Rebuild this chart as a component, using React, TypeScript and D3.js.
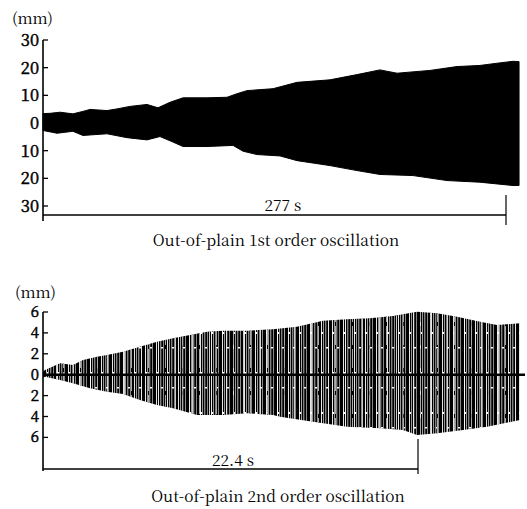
import React from 'react'
import * as d3 from 'd3'

// out-of-plane 1st order oscillation: envelope (mm)
const topUpperSec = [0, 4.2, 10.2, 17.9, 23.9, 28.1, 38.3, 44.3, 52, 62.2, 68.8, 76, 83.8, 98.1, 110.1, 116.1, 122, 137.6, 152, 171.7, 187.9, 201.6, 211.8, 231.5, 247.7, 261.4, 271.6, 281.2, 284.8]
const topUpperMm = [3.4, 3.5, 3.9, 3.3, 4.2, 4.9, 4.5, 5.1, 6.0, 6.7, 5.5, 7.5, 9.1, 9.1, 9.3, 10.6, 11.7, 12.4, 14.7, 15.6, 17.5, 19.2, 18.0, 19.0, 20.4, 20.8, 21.6, 22.3, 22.2]
const topLowerSec = [0, 8.4, 17.9, 23.9, 38.3, 50.3, 62.2, 70, 77.8, 83.8, 98.1, 113.7, 119.7, 128, 141.8, 152, 171.7, 187.9, 201.6, 221.4, 241.7, 261.4, 281.2, 284.8]
const topLowerMm = [2.7, 3.7, 3.0, 4.5, 3.9, 5.3, 6.1, 4.9, 6.9, 8.5, 8.5, 8.1, 10.2, 11.4, 11.9, 13.6, 15.4, 17.2, 18.6, 19.0, 20.8, 21.4, 22.6, 22.6]
const topTicks = [30, 20, 10, 0, -10, -20, -30]
const topSpanSec = 277

// out-of-plane 2nd order oscillation
const botUpperSec = [0, 0.12, 1.02, 1.79, 2.39, 3.23, 3.82, 4.78, 5.79, 6.81, 7.77, 8.78, 9.8, 10.75, 12.19, 13.74, 15.17, 16.73, 18.16, 19.53, 20.91, 22.34, 23.54, 24.73, 26.11, 27.12, 28.49]
const botUpperMm = [0.3, 0.45, 1.09, 0.93, 1.41, 1.72, 1.89, 2.2, 2.68, 3.16, 3.48, 3.8, 4.11, 4.21, 4.21, 4.34, 4.59, 5.17, 5.3, 5.4, 5.62, 6.03, 5.88, 5.55, 5.07, 4.75, 4.92]
const botLowerSec = [0, 0.12, 1.02, 1.79, 2.81, 3.82, 4.78, 5.79, 6.81, 7.77, 9.2, 10.75, 12.19, 13.74, 14.16, 16.13, 18.16, 20.13, 21.51, 22.34, 23.54, 25.09, 26.52, 28.49]
const botLowerMm = [0.3, 0.19, 0.51, 0.82, 1.3, 1.63, 1.85, 2.42, 2.9, 3.22, 3.86, 3.86, 3.69, 3.86, 4.02, 4.5, 4.98, 5.13, 5.29, 5.77, 5.61, 5.29, 4.98, 4.33]
const botTicks = [6, 4, 2, 0, -2, -4, -6]
const botSpanSec = 22.4

const serif = "'Noto Serif CJK JP', 'Liberation Serif', serif"

function envelopePath(upS: number[], upV: number[], loS: number[], loV: number[], x: any, y: any) {
  const pts: [number, number][] = []
  upS.forEach((s, i) => pts.push([x(s), y(upV[i])]))
  for (let i = loS.length - 1; i >= 0; i--) pts.push([x(loS[i]), y(-loV[i])])
  return d3.line().curve(d3.curveLinearClosed)(pts) || ''
}

const T = (props: any) => <text {...props} style={{ fontFamily: serif }} />

export default function App() {
  // top chart scales
  const xTop = d3.scaleLinear().domain([0, topSpanSec]).range([43, 506])
  const yTop = d3.scaleLinear().domain([-30, 30]).range([206, 40])
  // bottom chart scales
  const xBot = d3.scaleLinear().domain([0, botSpanSec]).range([43, 418])
  const yBot = d3.scaleLinear().domain([-6, 6]).range([437.4, 312])

  const topPath = envelopePath(topUpperSec, topUpperMm, topLowerSec, topLowerMm, xTop, yTop)
  const botPath = envelopePath(botUpperSec, botUpperMm, botLowerSec, botLowerMm, xBot, yBot)

  return (
    <svg width={527} height={509} style={{ position: 'absolute', left: 0, top: 0, background: '#fff' }}>
      <defs>
        <pattern id="strokes" width={11} height={40} patternUnits="userSpaceOnUse">
          <rect x={0} y={0} width={11} height={40} fill="#000" />
          <rect x={2} y={0} width={0.9} height={40} fill="#fff" />
          <rect x={4} y={0} width={1} height={40} fill="#999" />
          <rect x={6.5} y={0} width={0.7} height={40} fill="#fff" />
          <rect x={9} y={0} width={1} height={40} fill="#888" />
          <rect x={2} y={12} width={2} height={2} fill="#fff" />
          <rect x={7} y={27} width={2} height={1.5} fill="#fff" />
        </pattern>
        <pattern id="gaps" width={17} height={23} patternUnits="userSpaceOnUse">
          <rect x={5} y={0} width={0.8} height={23} fill="#fff" />
          <rect x={12} y={4} width={1} height={19} fill="#aaa" />
        </pattern>
      </defs>

      {/* ---------- top chart ---------- */}
      <T x={12} y={24} fontSize={15.5}>(mm)</T>
      <line x1={43} x2={43} y1={yTop(30)} y2={221} stroke="#000" strokeWidth={1.6} />
      {topTicks.map(t => (
        <g key={'tt' + t}>
          <line x1={43} x2={48} y1={yTop(t)} y2={yTop(t)} stroke="#000" strokeWidth={1.3} />
          <T x={39} y={yTop(t) + 6} fontSize={16.5} textAnchor="end" stroke="#000" strokeWidth={0.5}>{Math.abs(t)}</T>
        </g>
      ))}
      <path d={topPath} fill="#000" stroke="#000" strokeWidth={1} strokeLinejoin="round" />
      <line x1={43} x2={xTop(topSpanSec)} y1={215} y2={215} stroke="#000" strokeWidth={1.3} />
      <line x1={xTop(topSpanSec)} x2={xTop(topSpanSec)} y1={195} y2={225} stroke="#000" strokeWidth={1.2} />
      <T x={283} y={211} fontSize={15.5} textAnchor="middle">277 s</T>
      <T x={276} y={246} fontSize={15.5} textAnchor="middle">Out-of-plain 1st order oscillation</T>

      {/* ---------- bottom chart ---------- */}
      <T x={15} y={298} fontSize={15.5}>(mm)</T>
      <line x1={43} x2={43} y1={yBot(6)} y2={471} stroke="#000" strokeWidth={1.6} />
      {botTicks.map(t => (
        <g key={'bt' + t}>
          <line x1={43} x2={48} y1={yBot(t)} y2={yBot(t)} stroke="#000" strokeWidth={1.3} />
          <T x={39} y={yBot(t) + 5} fontSize={15} textAnchor="end" stroke="#000" strokeWidth={0.5}>{Math.abs(t)}</T>
        </g>
      ))}
      <path d={botPath} fill="url(#strokes)" />
      <path d={botPath} fill="url(#gaps)" />
      <line x1={43} x2={525} y1={yBot(0)} y2={yBot(0)} stroke="#000" strokeWidth={2.5} />
      <line x1={43} x2={xBot(botSpanSec)} y1={469} y2={469} stroke="#000" strokeWidth={1.3} />
      <line x1={xBot(botSpanSec)} x2={xBot(botSpanSec)} y1={439} y2={474} stroke="#000" strokeWidth={1.2} />
      <T x={233} y={466} fontSize={15.5} textAnchor="middle">22.4 s</T>
      <T x={278} y={502} fontSize={15.5} textAnchor="middle">Out-of-plain 2nd order oscillation</T>
    </svg>
  )
}
